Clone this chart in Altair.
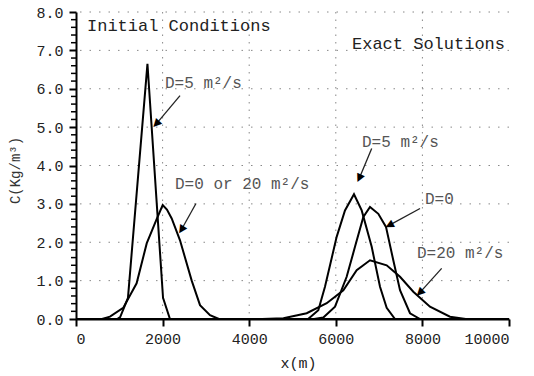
import altair as alt
import pandas as pd

# ---- curve data (x in m, C in kg/m^3) ----
init_d5_x = [0, 950, 1020, 1200, 1650, 2010, 2170, 10000]
init_d5_y = [0, 0, 0.05, 0.55, 6.65, 0.55, 0, 0]

init_d0_x = [0, 600, 785, 1090, 1400, 1633, 1863, 2002, 2100, 2210, 2402, 2672, 2864, 3095, 3300, 10000]
init_d0_y = [0, 0, 0.06, 0.29, 0.93, 1.97, 2.6, 2.97, 2.85, 2.62, 2.05, 1.0, 0.36, 0.1, 0, 0]

ex_d5_x = [0, 5360, 5596, 5750, 6020, 6212, 6420, 6598, 6829, 7021, 7175, 7367, 10000]
ex_d5_y = [0, 0, 0.23, 0.84, 2.14, 2.83, 3.25, 2.83, 1.88, 0.84, 0.29, 0, 0]

ex_d0_x = [0, 5500, 5712, 5982, 6251, 6443, 6636, 6790, 6982, 7159, 7328, 7483, 7714, 7945, 10000]
ex_d0_y = [0, 0, 0.04, 0.32, 1.1, 1.88, 2.66, 2.92, 2.74, 2.4, 1.53, 0.75, 0.15, 0, 0]

ex_d20_x = [0, 4300, 4790, 5328, 5790, 6174, 6482, 6790, 7175, 7483, 7790, 8175, 8637, 9000, 10000]
ex_d20_y = [0, 0, 0.02, 0.15, 0.41, 0.75, 1.27, 1.53, 1.4, 1.1, 0.71, 0.32, 0.06, 0, 0]

# ---- axis ticks and grid ----
x_ticks = [0, 2000, 4000, 6000, 8000, 10000]
y_ticks = [0, 1, 2, 3, 4, 5, 6, 7, 8]
y_minor = [v / 5 for v in range(0, 41) if v % 5 != 0]
x_grid = [2000, 4000, 6000, 8000]
y_grid = [1, 2, 3, 4, 5, 6, 7, 8]

# ---- annotations ----
head_texts = ["Initial Conditions", "Exact Solutions"]
head_x = [254, 6374]
head_y = [7.64, 7.17]

ann_texts = ["D=5 m²/s", "D=0 or 20 m²/s", "D=5 m²/s", "D=0", "D=20 m²/s"]
ann_x = [2055, 2286, 6605, 8060, 7875]
ann_y = [6.16, 3.51, 4.60, 3.14, 1.71]

arr_x = [2402, 2771, 6829, 7945, 8445]
arr_y = [5.82, 3.01, 4.44, 2.88, 1.32]
arr_xe = [1850, 2430, 6540, 7230, 7935]
arr_ye = [5.08, 2.32, 3.66, 2.44, 0.68]
arr_angle = [223, 213, 205, 243, 225]

FONT = "Liberation Mono"
XT = "x(m)"
YT = "C(Kg/m³)"

frames = []
for name, xs, ys in [("init5", init_d5_x, init_d5_y), ("init0", init_d0_x, init_d0_y),
                     ("ex5", ex_d5_x, ex_d5_y), ("ex0", ex_d0_x, ex_d0_y),
                     ("ex20", ex_d20_x, ex_d20_y)]:
    frames.append(pd.DataFrame({"x": xs, "c": ys, "curve": name, "i": range(len(xs))}))
curves = pd.concat(frames, ignore_index=True)

xscale = alt.Scale(domain=[0, 10000], nice=False, zero=False)
yscale = alt.Scale(domain=[0, 8], nice=False)

X_AX = alt.Axis(
    values=x_ticks, format="d", grid=False,
    tickSize=7, tickWidth=2, tickColor="black",
    domainWidth=2, domainColor="black", labelFont=FONT, labelFontSize=15,
    labelColor="#222", labelPadding=5, titleFont=FONT, titleFontSize=15,
    titleFontWeight="normal", titleColor="#222", titleX=222, titleY=36)
Y_AX = alt.Axis(
    values=y_ticks, format=".1f", grid=False,
    tickSize=7, tickWidth=2, tickColor="black", labelOverlap=False,
    domainWidth=2, domainColor="black", labelFont=FONT, labelFontSize=15,
    labelColor="#222", labelPadding=6, titleFont=FONT, titleFontSize=14,
    titleFontWeight="normal", titleColor="#333", titleX=-54, titleY=158)


def X(f):
    return alt.X(f, scale=xscale, title=XT, axis=X_AX)


def Y(f):
    return alt.Y(f, scale=yscale, title=YT, axis=Y_AX)


vgrid = alt.Chart(pd.DataFrame({"x": x_grid})).mark_rule(
    color="#888", strokeWidth=1, strokeDash=[1.5, 6]
).encode(x=X("x:Q"))

hgrid = alt.Chart(pd.DataFrame({"c": y_grid})).mark_rule(
    color="#888", strokeWidth=1, strokeDash=[1.5, 8]
).encode(y=Y("c:Q"))

lines = alt.Chart(curves).mark_line(color="black", strokeWidth=2).encode(
    x=X("x:Q"), y=Y("c:Q"), detail="curve:N", order="i:Q",
)

minor = alt.Chart(pd.DataFrame({"c": y_minor})).mark_rule(color="black", strokeWidth=1.5).encode(
    y=Y("c:Q"), x=alt.value(-5), x2=alt.value(0),
)

heads = alt.Chart(pd.DataFrame({"t": head_texts, "x": head_x, "c": head_y})).mark_text(
    align="left", baseline="middle", font=FONT, fontSize=17, color="#222"
).encode(x=X("x:Q"), y=Y("c:Q"), text="t:N")

anns = alt.Chart(pd.DataFrame({"t": ann_texts, "x": ann_x, "c": ann_y})).mark_text(
    align="left", baseline="middle", font=FONT, fontSize=16, color="#555"
).encode(x=X("x:Q"), y=Y("c:Q"), text="t:N")

arr_df = pd.DataFrame({"x": arr_x, "c": arr_y, "xe": arr_xe, "ce": arr_ye, "a": arr_angle})

shafts = alt.Chart(arr_df).mark_rule(color="#222", strokeWidth=1.3).encode(
    x=X("x:Q"), y=Y("c:Q"), x2="xe:Q", y2="ce:Q",
)

tips = alt.Chart(arr_df).mark_text(
    text="▲", font="DejaVu Sans", fontSize=11, color="black", baseline="middle", align="center"
).encode(
    x=X("xe:Q"), y=Y("ce:Q"), angle=alt.Angle("a:Q", scale=None),
)

chart = alt.layer(vgrid, hgrid, lines, minor, shafts, tips, heads, anns).properties(
    width=433, height=307,
    autosize=alt.AutoSizeParams(type="none"),
    padding={"left": 76, "top": 12, "right": 25, "bottom": 57},
    background="white",
).configure_view(stroke=None)

chart.save("out.html", embed_options={"renderer": "svg", "actions": False})
